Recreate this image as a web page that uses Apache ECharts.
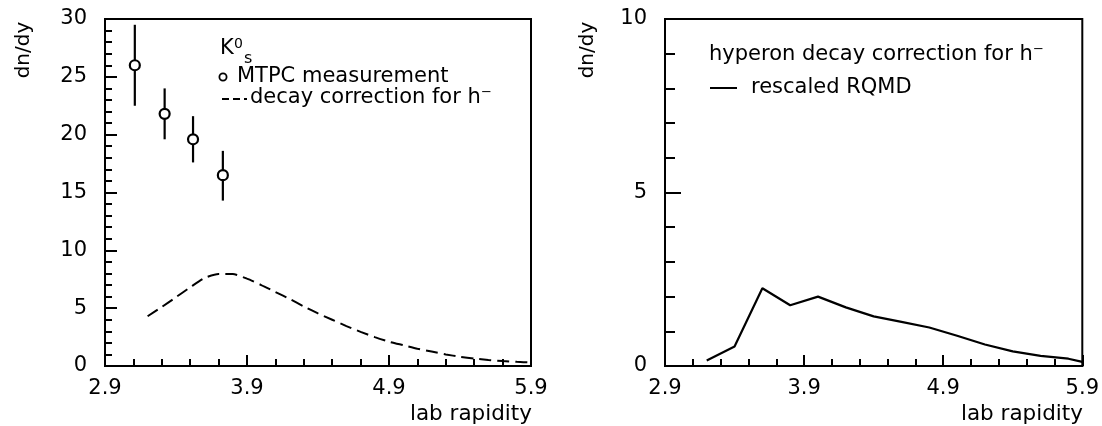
<!DOCTYPE html>
<html>
<head>
<meta charset="utf-8">
<script src="https://cdn.jsdelivr.net/npm/echarts@6/dist/echarts.min.js"></script>
<style>
  html, body { margin: 0; padding: 0; background: #ffffff; }
  #chart { width: 1102px; height: 426px; }
</style>
</head>
<body>
<div id="chart"></div>
<script>
// K0s MTPC measurement: rapidity, dn/dy, error-bar low and high ends
const kaonX = [3.11, 3.32, 3.52, 3.73];
const kaonY = [26.0, 21.8, 19.6, 16.5];
const kaonLow = [22.5, 19.6, 17.6, 14.3];
const kaonHigh = [29.5, 24.0, 21.6, 18.6];

// decay correction for h- (dashed curve, left panel)
const decayX = [3.2, 3.3, 3.4, 3.5, 3.6, 3.7, 3.8, 3.9, 4.0, 4.1, 4.2, 4.3, 4.4, 4.5,
                4.6, 4.7, 4.8, 4.9, 5.0, 5.1, 5.2, 5.3, 5.4, 5.5, 5.6, 5.7, 5.8, 5.9];
const decayY = [4.3, 5.1, 5.95, 6.8, 7.6, 7.95, 7.95, 7.55, 7.0, 6.4, 5.8, 5.15, 4.55, 4.0,
                3.45, 2.95, 2.5, 2.1, 1.8, 1.5, 1.25, 1.0, 0.8, 0.65, 0.52, 0.43, 0.36, 0.3];

// hyperon decay correction, rescaled RQMD (solid curve, right panel)
const rqmdX = [3.2, 3.4, 3.6, 3.8, 4.0, 4.2, 4.4, 4.6, 4.8, 5.0, 5.2, 5.4, 5.6, 5.8, 5.9];
const rqmdY = [0.16, 0.56, 2.24, 1.75, 2.0, 1.69, 1.43, 1.27, 1.11, 0.87, 0.62, 0.42, 0.29, 0.21, 0.12];

// axis ranges
const rapidityRange = [2.9, 5.9];
const leftYRange = [0, 30];
const rightYRange = [0, 10];

const FONT = 'DejaVu Sans';
const INK = '#000000';
const TEXT_SIZE = 21;

function xAxisFor(gridIndex) {
  return {
    type: 'value', gridIndex,
    min: rapidityRange[0], max: rapidityRange[1], interval: 1,
    axisLine: { show: true, onZero: false, lineStyle: { color: INK, width: 2 } },
    axisTick: { show: true, inside: true, length: 11, lineStyle: { color: INK, width: 2 } },
    minorTick: { show: true, splitNumber: 5, length: 7, lineStyle: { color: INK, width: 2 } },
    splitLine: { show: false }, minorSplitLine: { show: false },
    axisLabel: {
      color: INK, fontFamily: FONT, fontSize: 21, margin: 12,
      showMinLabel: true, showMaxLabel: true,
      formatter: v => v.toFixed(1)
    }
  };
}

function yAxisFor(gridIndex, range, major, minor) {
  return {
    type: 'value', gridIndex,
    min: range[0], max: range[1], interval: 5,
    axisLine: { show: true, onZero: false, lineStyle: { color: INK, width: 2 } },
    axisTick: { show: true, inside: true, length: major, lineStyle: { color: INK, width: 2 } },
    minorTick: { show: true, splitNumber: 5, length: minor, lineStyle: { color: INK, width: 2 } },
    splitLine: { show: false }, minorSplitLine: { show: false },
    axisLabel: {
      color: INK, fontFamily: FONT, fontSize: 21, margin: 18,
      showMinLabel: true, showMaxLabel: true
    }
  };
}

function text(str, x, y, size, extra) {
  return Object.assign({
    type: 'text', x, y, silent: true,
    style: Object.assign({
      text: str, fill: INK, fontFamily: FONT, fontSize: size,
      textAlign: 'left', textVerticalAlign: 'middle'
    }, (extra && extra.style) || {})
  }, extra && extra.rotation !== undefined ? { rotation: extra.rotation } : {});
}

const option = {
  animation: false,
  backgroundColor: '#ffffff',
  grid: [
    { left: 105, top: 19, width: 426, height: 347, show: true, borderColor: INK, borderWidth: 2, backgroundColor: 'transparent' },
    { left: 665, top: 19, width: 419, height: 347, show: true, borderColor: INK, borderWidth: 2, backgroundColor: 'transparent' }
  ],
  xAxis: [xAxisFor(0), xAxisFor(1)],
  yAxis: [yAxisFor(0, leftYRange, 12, 7), yAxisFor(1, rightYRange, 16, 10)],
  series: [
    {
      name: 'error bars',
      type: 'custom', xAxisIndex: 0, yAxisIndex: 0,
      data: kaonX.map((x, i) => [x, kaonLow[i], kaonHigh[i]]),
      encode: { x: 0, y: [1, 2] },
      renderItem: (params, api) => {
        const lo = api.coord([api.value(0), api.value(1)]);
        const hi = api.coord([api.value(0), api.value(2)]);
        return {
          type: 'line',
          shape: { x1: lo[0], y1: lo[1], x2: hi[0], y2: hi[1] },
          style: { stroke: INK, lineWidth: 2.2 }
        };
      },
      z: 3
    },
    {
      name: 'MTPC measurement',
      type: 'scatter', xAxisIndex: 0, yAxisIndex: 0,
      data: kaonX.map((x, i) => [x, kaonY[i]]),
      symbol: 'circle', symbolSize: 10,
      itemStyle: { color: '#ffffff', borderColor: INK, borderWidth: 2.2, opacity: 1 },
      z: 4
    },
    {
      name: 'decay correction for h⁻',
      type: 'line', xAxisIndex: 0, yAxisIndex: 0,
      data: decayX.map((x, i) => [x, decayY[i]]),
      showSymbol: false, smooth: 0.2,
      lineStyle: { color: INK, width: 2, type: [12, 6] },
      z: 2
    },
    {
      name: 'rescaled RQMD',
      type: 'line', xAxisIndex: 1, yAxisIndex: 1,
      data: rqmdX.map((x, i) => [x, rqmdY[i]]),
      showSymbol: false,
      lineStyle: { color: INK, width: 2.2 },
      z: 2
    }
  ],
  graphic: [
    // axis titles
    text('dn/dy', 24, 50, 20, { rotation: Math.PI / 2, style: { textAlign: 'center' } }),
    text('dn/dy', 588, 50, 20, { rotation: Math.PI / 2, style: { textAlign: 'center' } }),
    text('lab rapidity', 532, 414, 21.5, { style: { textAlign: 'right' } }),
    text('lab rapidity', 1083, 414, 21.5, { style: { textAlign: 'right' } }),

    // left panel key
    text('K', 220, 49, TEXT_SIZE),
    text('0', 234, 44, 14),
    text('s', 244, 59, 16),
    {
      type: 'circle', silent: true,
      shape: { cx: 223, cy: 77, r: 3.6 },
      style: { fill: 'none', stroke: INK, lineWidth: 1.8 }
    },
    text('MTPC measurement', 237, 77, TEXT_SIZE),
    {
      type: 'line', silent: true,
      shape: { x1: 222, y1: 99, x2: 247, y2: 99 },
      style: { stroke: INK, lineWidth: 1.8, lineDash: [7, 4] }
    },
    text('decay correction for h⁻', 250, 98, TEXT_SIZE),

    // right panel key
    text('hyperon decay correction for h⁻', 709, 55, TEXT_SIZE),
    {
      type: 'line', silent: true,
      shape: { x1: 710, y1: 88, x2: 737, y2: 88 },
      style: { stroke: INK, lineWidth: 2 }
    },
    text('rescaled RQMD', 751, 88, TEXT_SIZE)
  ]
};

const chart = echarts.init(document.getElementById('chart'), null, { renderer: 'canvas' });
chart.setOption(option);
</script>
</body>
</html>
